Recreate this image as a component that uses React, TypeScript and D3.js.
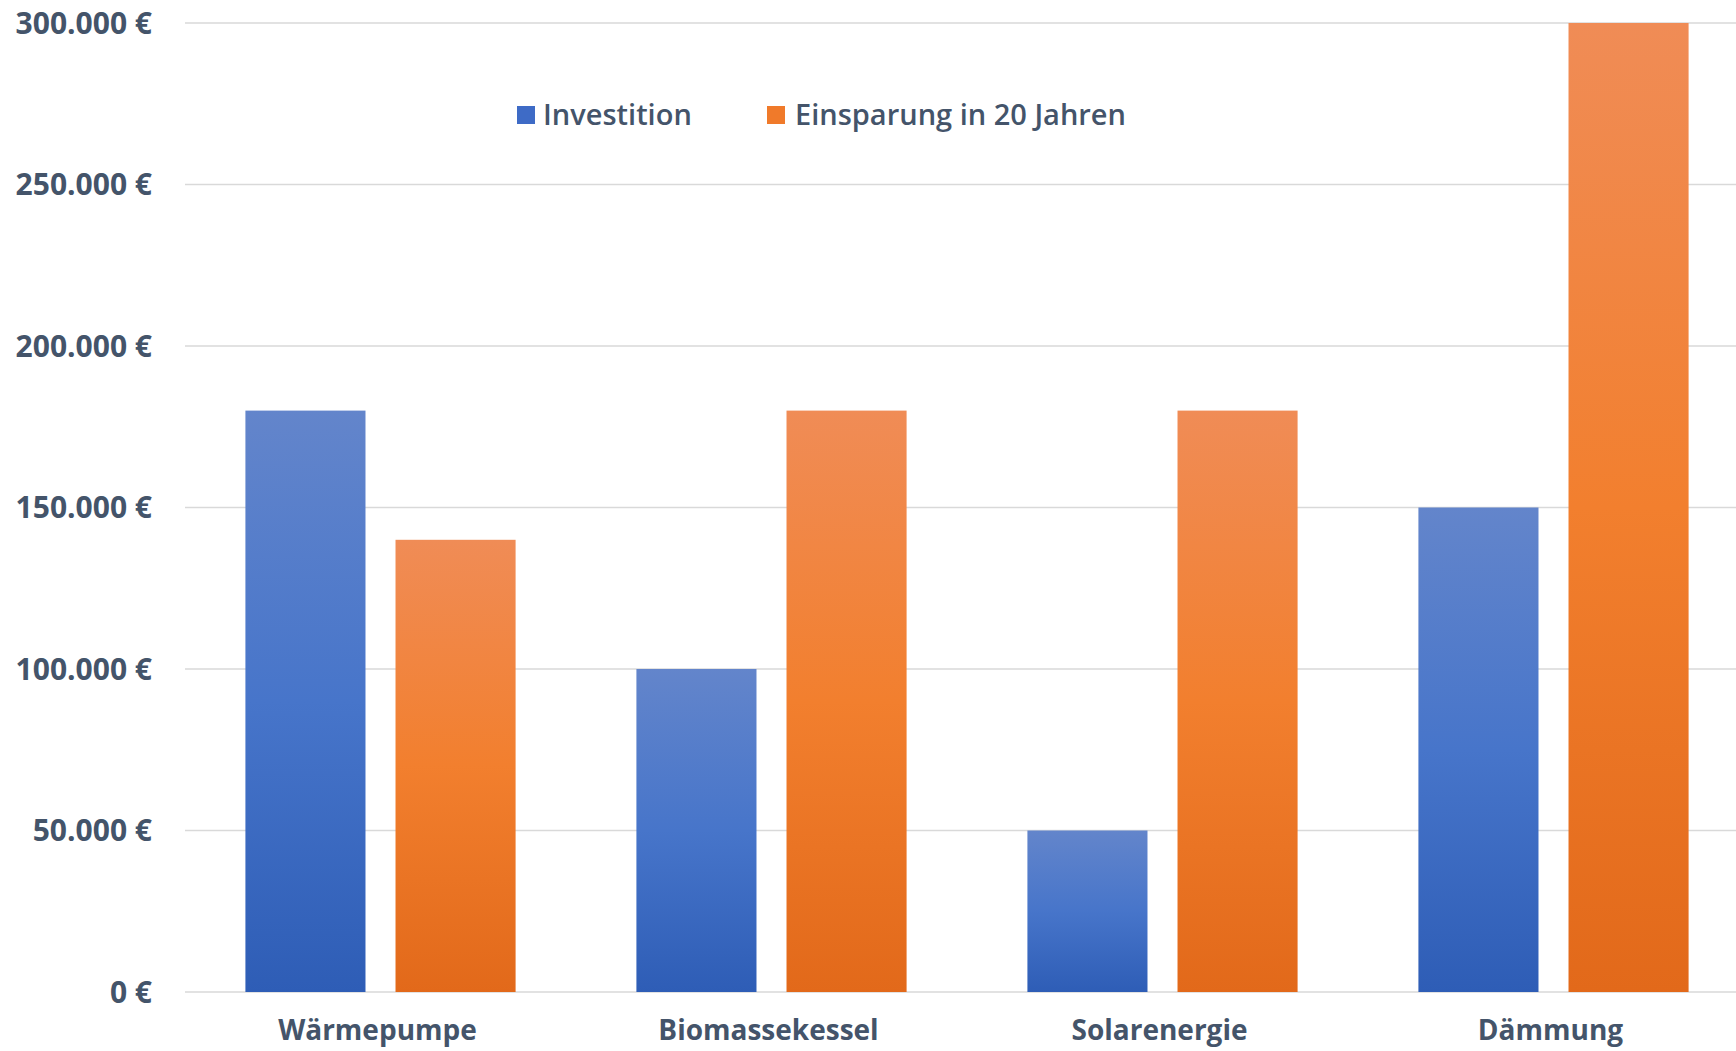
import React from "react";
import * as d3 from "d3";

const categories = ["Wärmepumpe", "Biomassekessel", "Solarenergie", "Dämmung"];
const seriesNames = ["Investition", "Einsparung in 20 Jahren"];
const investition = [180000, 100000, 50000, 150000];
const einsparung = [140000, 180000, 180000, 300000];
const yTicks = [0, 50000, 100000, 150000, 200000, 250000, 300000];

const W = 1736;
const H = 1051;

const fmt = (v: number) => d3.format(",")(v).replace(/,/g, ".") + " €";

export default function App() {
  const x = d3
    .scaleBand<string>()
    .domain(categories)
    .range([185, 1749])
    .paddingInner(0.309)
    .paddingOuter(0.1545);
  const xs = d3
    .scaleBand<string>()
    .domain(seriesNames)
    .range([0, x.bandwidth()])
    .paddingInner(0.2)
    .paddingOuter(0);
  const y = d3.scaleLinear().domain([0, 300000]).range([992, 23]);

  const series = [
    { name: seriesNames[0], values: investition, grad: "gBlue" },
    { name: seriesNames[1], values: einsparung, grad: "gOrange" },
  ];

  const textColor = "#44546A";

  return (
    <svg
      width={W}
      height={H}
      style={{ position: "absolute", left: 0, top: 0, background: "#fff" }}
      fontFamily="'Open Sans', sans-serif"
    >
      <defs>
        <linearGradient id="gBlue" x1="0" y1="0" x2="0" y2="1">
          <stop offset="0" stopColor="#6385CB" />
          <stop offset="0.5" stopColor="#4775CA" />
          <stop offset="1" stopColor="#2E5DB6" />
        </linearGradient>
        <linearGradient id="gOrange" x1="0" y1="0" x2="0" y2="1">
          <stop offset="0" stopColor="#F08C56" />
          <stop offset="0.5" stopColor="#F27F2E" />
          <stop offset="1" stopColor="#E2691A" />
        </linearGradient>
      </defs>
      <rect width={W} height={H} fill="#fff" />
      {yTicks.map((t) => (
        <g key={t}>
          <line x1={185} x2={W} y1={y(t)} y2={y(t)} stroke="#D9D9D9" strokeWidth={1.5} />
          <text
            x={152}
            y={y(t)}
            dy="0.35em"
            textAnchor="end"
            fontSize={30}
            fontWeight={700}
            fill={textColor}
          >
            {fmt(t)}
          </text>
        </g>
      ))}
      {categories.map((c, i) => (
        <g key={c} transform={`translate(${x(c)},0)`}>
          {series.map((s) => (
            <rect
              key={s.name}
              x={xs(s.name)}
              y={y(s.values[i])}
              width={xs.bandwidth()}
              height={y(0) - y(s.values[i])}
              fill={`url(#${s.grad})`}
            />
          ))}
          <text
            x={x.bandwidth() / 2 - 3}
            y={1040}
            textAnchor="middle"
            fontSize={28}
            fontWeight={700}
            fill={textColor}
          >
            {c}
          </text>
        </g>
      ))}
      <g>
        <rect x={517} y={106} width={18} height={18} fill="#3E6BC6" />
        <text x={543} y={115} dy="0.35em" fontSize={29} fontWeight={600} fill={textColor}>
          {seriesNames[0]}
        </text>
        <rect x={767} y={106} width={18} height={18} fill="#F07A2A" />
        <text x={795} y={115} dy="0.35em" fontSize={29} fontWeight={600} fill={textColor}>
          {seriesNames[1]}
        </text>
      </g>
    </svg>
  );
}
